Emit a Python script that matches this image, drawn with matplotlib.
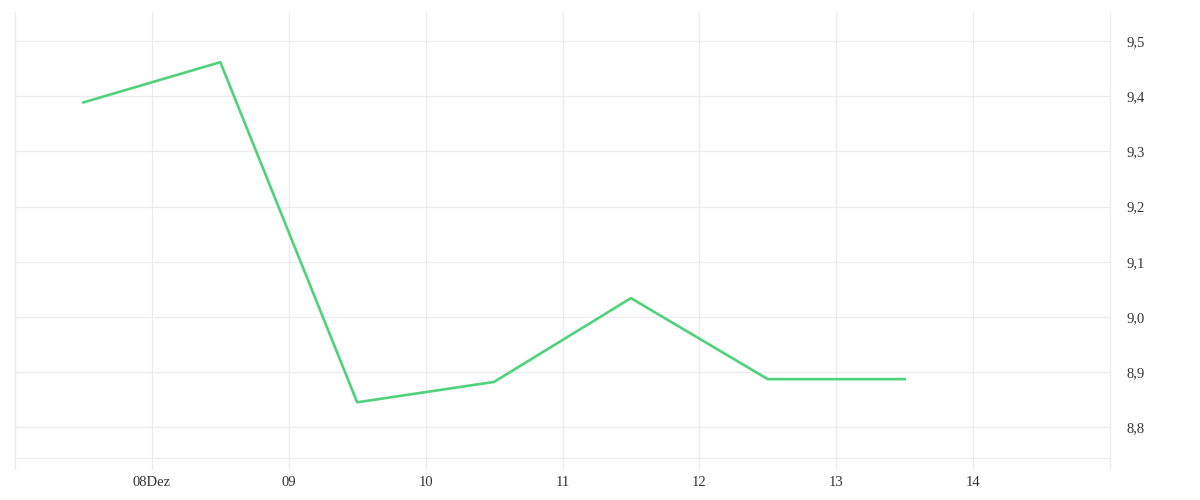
import numpy as np
import matplotlib
matplotlib.use('Agg')
import matplotlib.pyplot as plt
import matplotlib.dates as mdates
from matplotlib.ticker import FuncFormatter
from datetime import datetime

# Daten
dates = ['2023-12-07 12:00', '2023-12-08 12:00', '2023-12-09 12:00', '2023-12-10 12:00',
         '2023-12-11 12:00', '2023-12-12 12:00', '2023-12-13 12:00']
values = [9.389, 9.462, 8.845, 8.882, 9.034, 8.887, 8.887]
tick_days = ['2023-12-08', '2023-12-09', '2023-12-10', '2023-12-11', '2023-12-12', '2023-12-13', '2023-12-14']
tick_labels = ['08Dez', '09', '10', '11', '12', '13', '14']
y_ticks = [8.8, 8.9, 9.0, 9.1, 9.2, 9.3, 9.4, 9.5]

plt.rcParams['font.family'] = ['Liberation Serif', 'DejaVu Serif']

x = [datetime.strptime(d, '%Y-%m-%d %H:%M') for d in dates]
xt = [datetime.strptime(d, '%Y-%m-%d') for d in tick_days]

fig = plt.figure(figsize=(12, 5), dpi=100)
ax = fig.add_axes([0.0125, 0.084, 0.9125, 0.892])

grid_c = '#ececec'
ax.plot(x, values, color='#4fd27b', linewidth=1.9, zorder=3)

ax.set_xlim(datetime(2023, 12, 7), datetime(2023, 12, 15))
ax.set_ylim(8.744, 9.553)

ax.set_xticks(mdates.date2num(xt))
ax.set_xticklabels(tick_labels)
ax.xaxis.set_minor_locator(mdates.DayLocator())
ax.grid(True, which='both', axis='x', color=grid_c, linewidth=0.9)
ax.tick_params(axis='x', which='both', length=8, color=grid_c, width=0.9,
               labelsize=10.5, labelcolor='#333333', pad=5)

ax.yaxis.tick_right()
ax.set_yticks(y_ticks)
ax.yaxis.set_major_formatter(FuncFormatter(lambda v, p: f'{v:.1f}'.replace('.', ',')))
ax.grid(True, axis='y', color=grid_c, linewidth=0.9)
ax.tick_params(axis='y', length=0, labelsize=10.5, labelcolor='#333333', pad=12)

ax.spines['top'].set_visible(False)
ax.spines['bottom'].set_color(grid_c)
ax.spines['right'].set_color(grid_c)
ax.spines['left'].set_color(grid_c)

plt.savefig('out.png', dpi=100, facecolor='white')
